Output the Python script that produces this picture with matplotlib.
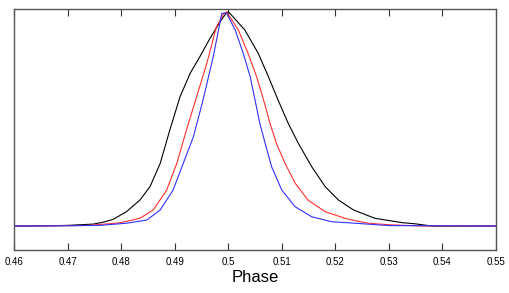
import matplotlib.pyplot as plt

plt.rcParams['font.family'] = ['Liberation Sans', 'DejaVu Sans']

# phase profiles (normalised: baseline 0, peak 1)
black_x = [0.46, 0.466, 0.470, 0.4748, 0.4765, 0.4785, 0.4810, 0.4835, 0.4854, 0.4873,
           0.4891, 0.4910, 0.4929, 0.4947, 0.4966, 0.4985, 0.4996, 0.5000, 0.5003,
           0.5031, 0.5056, 0.5075, 0.5093, 0.5112, 0.5131, 0.5156, 0.5181, 0.5206,
           0.5234, 0.5274, 0.5324, 0.5350, 0.5380, 0.55]
black_y = [0.0, 0.001, 0.003, 0.009, 0.017, 0.031, 0.067, 0.121, 0.184, 0.293,
           0.449, 0.604, 0.714, 0.791, 0.877, 0.955, 0.994, 1.0, 0.994,
           0.916, 0.807, 0.698, 0.589, 0.480, 0.386, 0.277, 0.184, 0.121,
           0.075, 0.036, 0.016, 0.010, 0.0, 0.0]

red_x = [0.46, 0.468, 0.474, 0.4798, 0.4835, 0.4860, 0.4885, 0.4904, 0.4922, 0.4941,
         0.4960, 0.4978, 0.4992, 0.4997, 0.5019, 0.5037, 0.5053, 0.5066, 0.5078,
         0.5090, 0.5106, 0.5125, 0.5149, 0.5181, 0.5218, 0.5237, 0.5262, 0.5300,
         0.5361, 0.55]
red_y = [0.0, 0.001, 0.003, 0.015, 0.036, 0.075, 0.168, 0.293, 0.449, 0.604,
         0.760, 0.931, 0.994, 1.0, 0.916, 0.807, 0.698, 0.589, 0.480,
         0.386, 0.293, 0.200, 0.121, 0.067, 0.036, 0.025, 0.013, 0.006,
         0.0, 0.0]

blue_x = [0.46, 0.470, 0.476, 0.4810, 0.4848, 0.4873, 0.4897, 0.4916, 0.4935, 0.4953,
          0.4972, 0.4988, 0.4997, 0.5013, 0.5028, 0.5041, 0.5050, 0.5059, 0.5069,
          0.5081, 0.5100, 0.5125, 0.5156, 0.5193, 0.5237, 0.5300, 0.55]
blue_y = [0.0, 0.001, 0.003, 0.013, 0.028, 0.075, 0.168, 0.293, 0.417, 0.589,
          0.791, 0.994, 0.994, 0.916, 0.807, 0.698, 0.589, 0.480, 0.386,
          0.277, 0.168, 0.090, 0.043, 0.020, 0.013, 0.002, 0.0]

xticks = [0.46, 0.47, 0.48, 0.49, 0.5, 0.51, 0.52, 0.53, 0.54, 0.55]
xlabels = ['0.46', '0.47', '0.48', '0.49', '0.5', '0.51', '0.52', '0.53', '0.54', '0.55']

fig = plt.figure(figsize=(5.1, 2.93), dpi=100)
ax = fig.add_axes([0.0275, 0.1468, 0.945, 0.8225])

ax.plot(black_x, black_y, color='black', lw=0.8)
ax.plot(red_x, red_y, color='#ff3030', lw=0.8)
ax.plot(blue_x, blue_y, color='#3030ff', lw=0.8)

ax.set_xlim(0.46, 0.55)
ax.set_ylim(-0.112, 1.014)
ax.set_xticks(xticks)
ax.set_xticklabels(xlabels, fontsize=7)
ax.set_yticks([])
ax.tick_params(axis='x', direction='in', top=True, length=5, width=0.8, pad=5, color='#333333')
for s in ax.spines.values():
    s.set_color('#555555')
    s.set_linewidth(1.0)
ax.set_xlabel('Phase', fontsize=12, labelpad=2)

fig.savefig('out.png', dpi=100)
